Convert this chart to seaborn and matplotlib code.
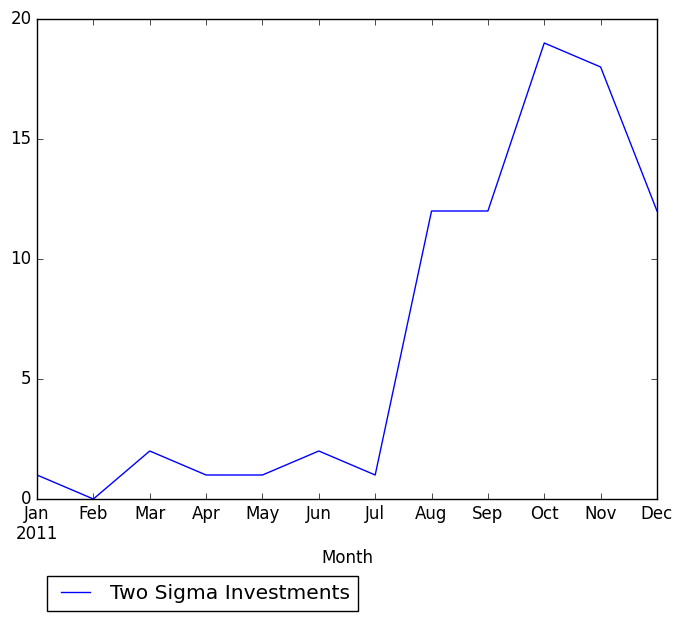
import matplotlib
matplotlib.use("Agg")
import matplotlib.pyplot as plt
import seaborn as sns
import pandas as pd

months = ["Jan", "Feb", "Mar", "Apr", "May", "Jun", "Jul", "Aug", "Sep", "Oct", "Nov", "Dec"]
values = [1, 0, 2, 1, 1, 2, 1, 12, 12, 19, 18, 12]
series_name = "Two Sigma Investments"

plt.style.use("classic")
plt.rcParams['font.family'] = ['DejaVu Sans']

df = pd.DataFrame({"pos": range(len(months)), "value": values, "series": series_name})

fig = plt.figure(figsize=(6.82, 6.21), dpi=100, facecolor="white")
ax = fig.add_axes([37/682, 1-499/621, 620/682, 480/621])
sns.lineplot(data=df, x="pos", y="value", hue="series", palette=["blue"], ax=ax, linewidth=1)

ax.set_xlim(0, 11)
ax.set_ylim(0, 20)
ax.set_yticks([0, 5, 10, 15, 20])
ax.set_xticks(range(len(months)))
labels = [m if i else m + "\n2011" for i, m in enumerate(months)]
ax.set_xticklabels(labels)
ax.tick_params(direction="in", top=True, right=True, labelsize=12)
ax.set_xlabel("Month", fontsize=12)
ax.set_ylabel("")
ax.xaxis.labelpad = 4

ax.get_legend().remove()
h, l = ax.get_legend_handles_labels()
leg = fig.legend(h, l, loc="upper left", bbox_to_anchor=(47/682, 1-576/621),
                 fontsize=14.6, frameon=True, fancybox=False, borderaxespad=0,
                 handletextpad=0.7)
leg.get_frame().set_edgecolor("black")

fig.savefig("out.png", dpi=100, facecolor="white")
